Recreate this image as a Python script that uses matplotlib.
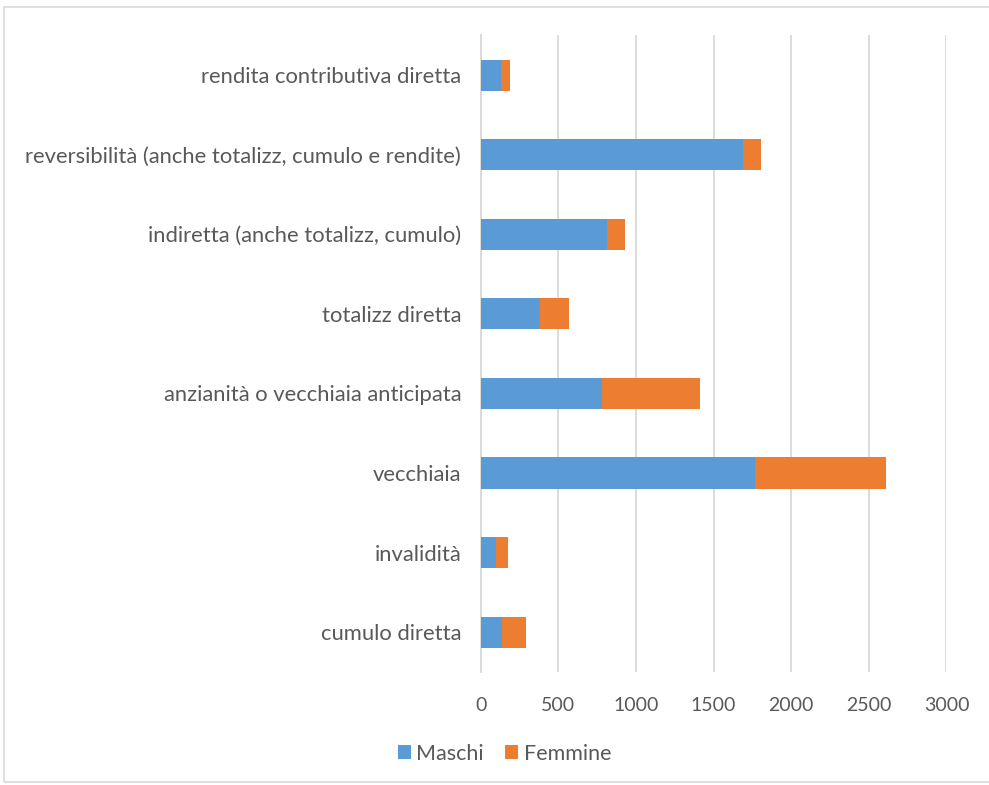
import matplotlib
matplotlib.use("Agg")
import matplotlib.pyplot as plt
from matplotlib.patches import Rectangle

categories = [
    "cumulo diretta",
    "invalidità",
    "vecchiaia",
    "anzianità o vecchiaia anticipata",
    "totalizz diretta",
    "indiretta (anche totalizz, cumulo)",
    "reversibilità (anche totalizz, cumulo e rendite)",
    "rendita contributiva diretta",
]
maschi = [139, 96, 1764, 779, 385, 815, 1687, 128]
femmine = [154, 81, 844, 635, 183, 116, 120, 60]
xticks = [0, 500, 1000, 1500, 2000, 2500, 3000]

BLUE = "#5B9BD5"
ORANGE = "#ED7D31"
TEXT = "#595959"
GRID = "#D9D9D9"

plt.rcParams["font.family"] = ["Lato", "DejaVu Sans"]

fig = plt.figure(figsize=(9.89, 7.85), dpi=100)
ax = fig.add_axes([0.486, 0.144, 0.471, 0.811])

y = list(range(len(categories)))
ax.barh(y, maschi, height=0.39, color=BLUE, label="Maschi", zorder=3)
ax.barh(y, femmine, left=maschi, height=0.39, color=ORANGE, label="Femmine", zorder=3)

ax.set_xlim(0, 3000)
ax.set_ylim(-0.5, len(categories) - 0.5)
ax.set_xticks(xticks)
ax.set_xticklabels([str(v) for v in xticks])
ax.set_yticks(y)
ax.set_yticklabels(categories)
ax.tick_params(axis="both", length=0, colors=TEXT)
ax.tick_params(axis="x", pad=18, labelsize=14)
ax.tick_params(axis="y", pad=14, labelsize=15.8)
ax.grid(axis="x", color=GRID, linewidth=1.3, zorder=0)
for side in ["top", "right", "bottom"]:
    ax.spines[side].set_visible(False)
ax.spines["left"].set_color(GRID)
ax.spines["left"].set_linewidth(1.3)

fig.legend(loc="center", bbox_to_anchor=(0.51, 0.04), ncol=2, frameon=False,
           fontsize=15.5, labelcolor=TEXT, handlelength=0.6, handleheight=0.6,
           handletextpad=0.25, columnspacing=1.0)

fig.patches.append(Rectangle((0.004, 0.004), 1.2, 0.987, transform=fig.transFigure,
                             fill=False, edgecolor=GRID, linewidth=1.2))

fig.savefig("out.png", dpi=100)
